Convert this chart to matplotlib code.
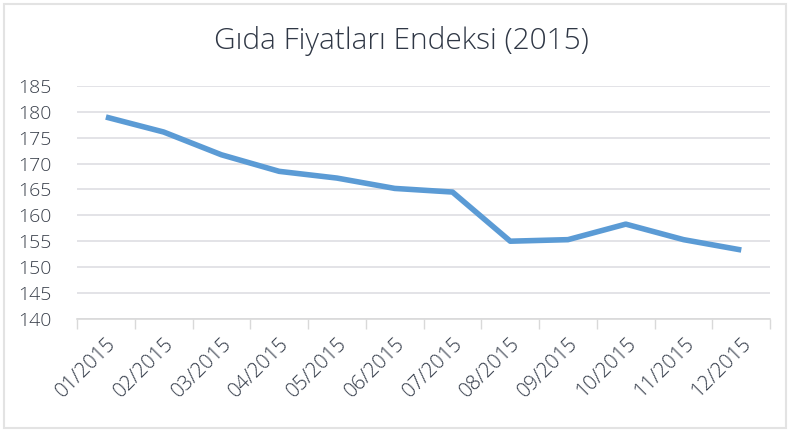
import matplotlib
matplotlib.use("Agg")
import matplotlib.pyplot as plt
from matplotlib.patches import Rectangle
from matplotlib.ticker import FixedLocator, NullFormatter

plt.rcParams['font.family'] = ['Open Sans', 'DejaVu Sans']

months = ["01/2015", "02/2015", "03/2015", "04/2015", "05/2015", "06/2015",
          "07/2015", "08/2015", "09/2015", "10/2015", "11/2015", "12/2015"]
index_values = [179.0, 176.1, 171.7, 168.5, 167.2, 165.2,
                164.5, 155.0, 155.3, 158.3, 155.3, 153.3]
yticks = list(range(140, 186, 5))

fig = plt.figure(figsize=(7.94, 4.32), dpi=100)
fig.patches.append(Rectangle((0.005, 0.01), 0.985, 0.98, transform=fig.transFigure,
                             fill=False, edgecolor="#e3e3e3", linewidth=1.5))
ax = fig.add_axes([0.097, 0.262, 0.873, 0.539])

x = range(len(months))
ax.plot(x, index_values, color="#5b9bd5", linewidth=4,
        solid_capstyle="butt", solid_joinstyle="round")

ax.set_xlim(-0.5, len(months) - 0.5)
ax.set_ylim(140, 185)
ax.set_yticks(yticks)
ax.set_xticks(list(x))
ax.set_xticklabels(months, rotation=45, ha="right", va="top",
                   rotation_mode="anchor", fontsize=14.5, color="#2f3745",
                   fontweight="light")
ax.xaxis.set_minor_locator(FixedLocator([i - 0.5 for i in range(len(months) + 1)]))
ax.xaxis.set_minor_formatter(NullFormatter())
ax.tick_params(axis="x", which="major", length=0, pad=11)
ax.tick_params(axis="x", which="minor", length=7, color="#d9d9d9", width=1)
ax.tick_params(axis="y", length=0, pad=18, labelsize=14, labelcolor="#3a404b")
for lbl in ax.get_yticklabels():
    lbl.set_fontweight("light")

ax.grid(axis="y", color="#dedee3", linewidth=1.2)
ax.set_axisbelow(True)
for side in ["top", "right", "left"]:
    ax.spines[side].set_visible(False)
ax.spines["bottom"].set_color("#d9d9d9")
ax.spines["bottom"].set_linewidth(1.2)

fig.text(0.505, 0.905, "Gıda Fiyatları Endeksi (2015)", ha="center", va="center",
         fontsize=21.5, color="#2f3745", fontweight="light")

fig.savefig("out.png", dpi=100, facecolor="white")
